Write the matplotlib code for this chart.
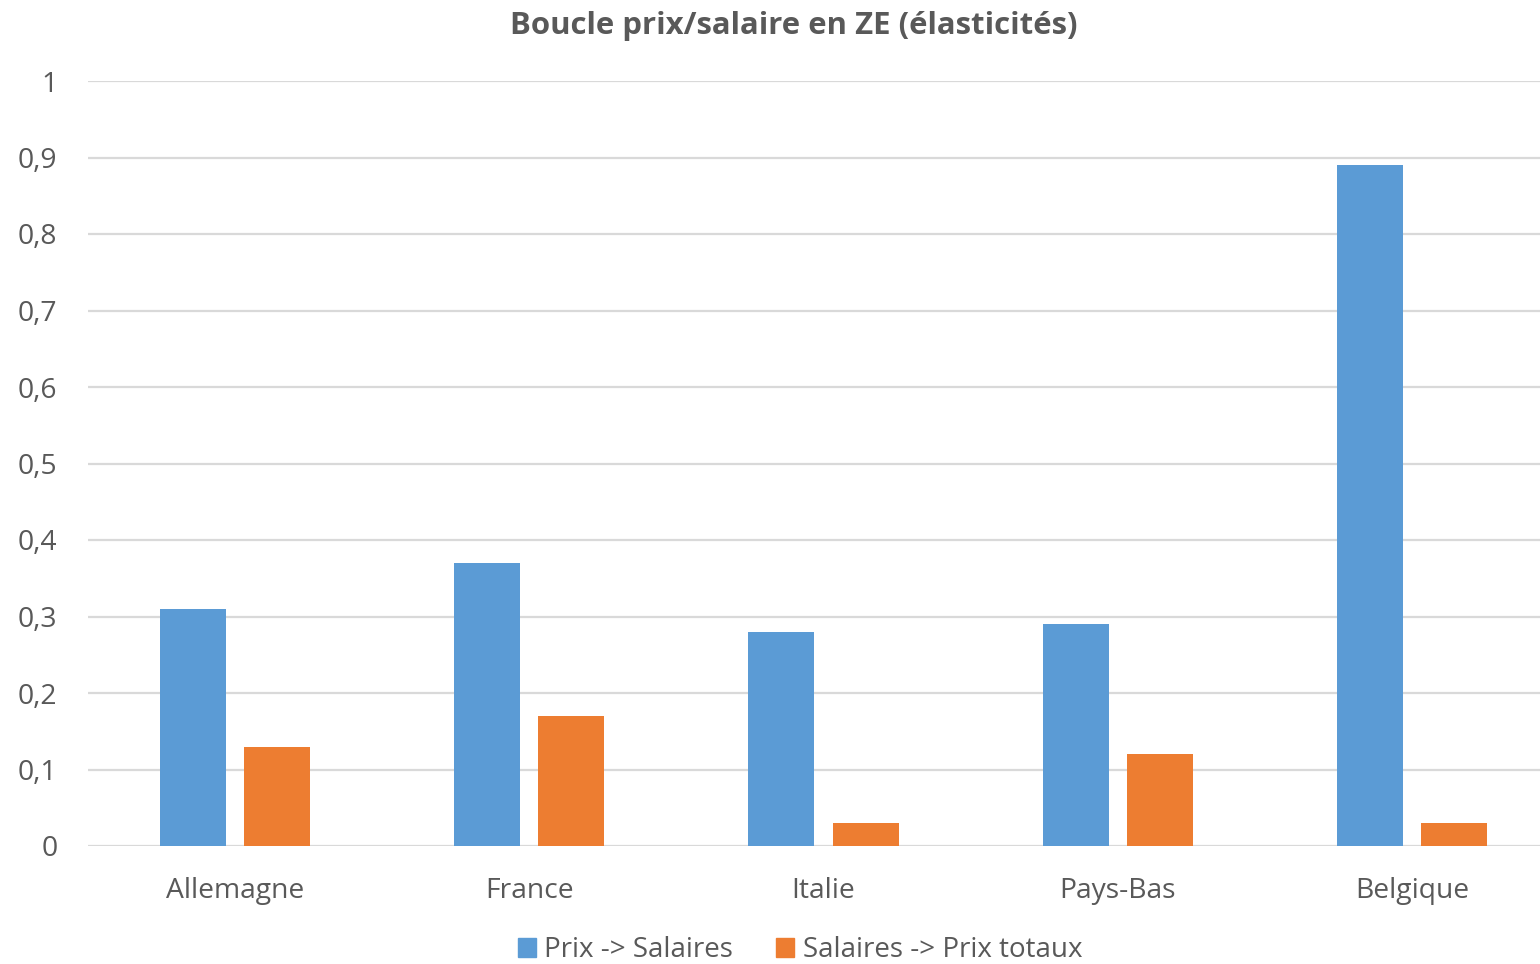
import numpy as np
import matplotlib.pyplot as plt
from matplotlib.patches import Patch

# data
pays = ['Allemagne', 'France', 'Italie', 'Pays-Bas', 'Belgique']
prix_salaires = [0.31, 0.37, 0.28, 0.29, 0.89]
salaires_prix = [0.13, 0.17, 0.03, 0.12, 0.03]
yticks = [0, 0.1, 0.2, 0.3, 0.4, 0.5, 0.6, 0.7, 0.8, 0.9, 1]

bleu = '#5B9BD5'
orange = '#ED7D31'
gris = '#595959'

plt.rcParams['font.family'] = ['Open Sans', 'DejaVu Sans']

fig = plt.figure(figsize=(15.4, 9.64), dpi=100)
ax = fig.add_axes([88 / 1540, 118 / 964, 1471 / 1540, 765 / 964])

x = np.arange(len(pays))
w = 0.224
off = 0.143
ax.bar(x - off, prix_salaires, w, color=bleu, zorder=3)
ax.bar(x + off, salaires_prix, w, color=orange, zorder=3)

ax.set_xlim(-0.5, len(pays) - 0.5)
ax.set_ylim(0, 1)
ax.set_yticks(yticks)
ax.set_yticklabels([('%g' % v).replace('.', ',') for v in yticks])
ax.set_xticks(x)
ax.set_xticklabels(pays)
ax.grid(axis='y', color='#D9D9D9', linewidth=1.6, zorder=0)
ax.set_axisbelow(True)
for s in ax.spines.values():
    s.set_visible(False)
ax.tick_params(length=0, colors=gris, labelsize=20.3)
ax.tick_params(axis='y', pad=22)
ax.tick_params(axis='x', pad=22)

fig.text(794 / 1540, 1 - 26 / 964, 'Boucle prix/salaire en ZE (élasticités)',
         ha='center', va='center', fontsize=22.4, fontweight='bold', color=gris)

handles = [Patch(color=bleu, label='Prix -> Salaires'),
           Patch(color=orange, label='Salaires -> Prix totaux')]
fig.legend(handles=handles, loc='center', bbox_to_anchor=(800 / 1540, 1 - 950 / 964),
           ncol=2, frameon=False, fontsize=20, labelcolor=gris,
           handlelength=0.65, handleheight=0.65, handletextpad=0.3, columnspacing=1.55)

fig.savefig('out.png', dpi=100)
